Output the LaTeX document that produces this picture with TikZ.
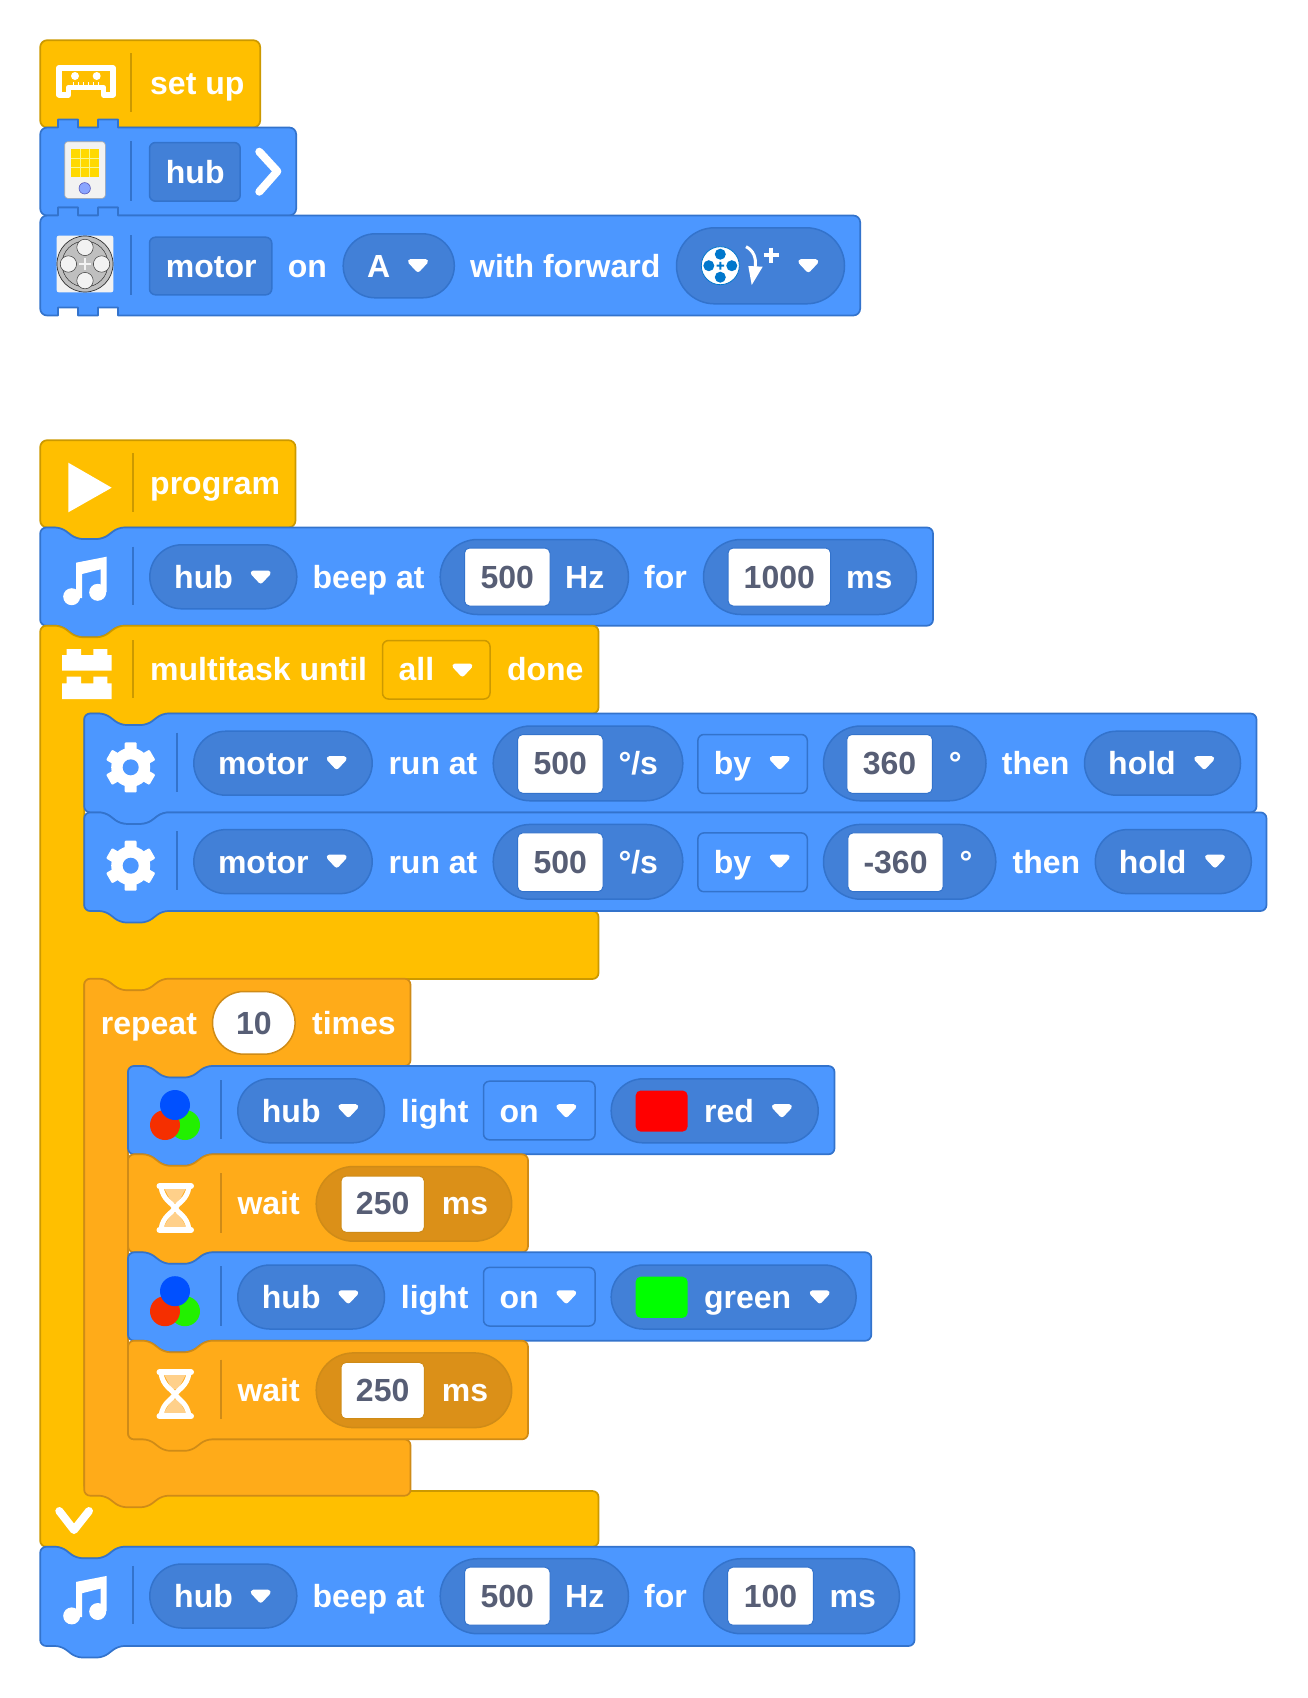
\documentclass[tikz,border=0pt]{standalone}
\usepackage{fontspec}
\setmainfont{Liberation Sans}
\definecolor{yel}{HTML}{FFBF00}\definecolor{yelD}{HTML}{CC9900}
\definecolor{blu}{HTML}{4C97FF}\definecolor{bluD}{HTML}{3373CC}\definecolor{bluI}{HTML}{4280D7}
\definecolor{org}{HTML}{FFAB19}\definecolor{orgD}{HTML}{CF8B17}\definecolor{orgI}{HTML}{DB9018}
\definecolor{numc}{HTML}{575E75}\definecolor{sand}{HTML}{FFD08A}\definecolor{iconbg}{HTML}{F2F2F2}
\tikzset{
  yb/.style={fill=yel,draw=yelD,line width=1.7pt,line join=round},
  bb/.style={fill=blu,draw=bluD,line width=1.7pt,line join=round},
  ob/.style={fill=org,draw=orgD,line width=1.7pt,line join=round},
  bp/.style={fill=bluI,draw=bluD,line width=1.5pt},
  op/.style={fill=orgI,draw=orgD,line width=1.5pt},
  lbl/.style={anchor=base west,inner sep=0pt,text=white,font=\fontsize{32}{32}\selectfont\bfseries},
  nbl/.style={anchor=base,inner sep=0pt,text=numc,font=\fontsize{32}{32}\selectfont\bfseries},
  sepB/.style={draw=bluD,line width=1.8pt},
  sepO/.style={draw=orgD,line width=1.8pt},
  sepY/.style={draw=yelD,line width=1.8pt},
  ic/.style={fill=white,draw=none}
}
\newcounter{tn}
\newcommand\lbl[3]{\stepcounter{tn}\node[lbl] (t\arabic{tn}) at ({#1-1},{#2-0.2}) {#3};}
\newcommand\nbl[3]{\stepcounter{tn}\node[nbl] (t\arabic{tn}) at (#1,{#2-0.2}) {#3};}
% stack block with notch and bump
\newcommand\blk[5]{\draw[#1,rounded corners=6pt] (#2,#3) -- ({#2+21},#3) -- ({#2+36},{#3+11.5}) -- ({#2+63},{#3+11.5}) -- ({#2+78},#3) -- (#4,#3) -- (#4,#5) -- ({#2+78},#5) -- ({#2+63},{#5+11.5}) -- ({#2+36},{#5+11.5}) -- ({#2+21},#5) -- (#2,#5) -- cycle;}
\newcommand\hatblk[5]{\draw[#1,rounded corners=7pt] (#2,#3) -- (#4,#3) -- (#4,#5) -- (#2,#5) -- cycle;}
% block with square tabs
\newcommand\tabblk[3]{\draw[bb] (47.2,#1) -- (58,#1) -- (58,{#1-8}) -- (78,{#1-8}) -- (78,#1) -- (98,#1) -- (98,{#1-8}) -- (118,{#1-8}) -- (118,#1) -- ({#2-7},#1) .. controls ({#2-3},#1) and (#2,{#1+3}) .. (#2,{#1+7}) -- (#2,{#3-7}) .. controls (#2,{#3-3}) and ({#2-3},#3) .. ({#2-7},#3) -- (118,#3) -- (118,{#3-8}) -- (98,{#3-8}) -- (98,#3) -- (78,#3) -- (78,{#3-8}) -- (58,{#3-8}) -- (58,#3) -- (47.2,#3) .. controls (43.2,#3) and (40.2,{#3-3}) .. (40.2,{#3-7}) -- (40.2,{#1+7}) .. controls (40.2,{#1+3}) and (43.2,#1) .. (47.2,#1) -- cycle;}
\newcommand\pill[5]{\pgfmathsetmacro\prad{(#5-#3)/2-0.01}\draw[#1,rounded corners=\prad pt] (#2,#3) rectangle (#4,#5);}
\newcommand\rbox[5]{\draw[#1,rounded corners=6pt] (#2,#3) rectangle (#4,#5);}
\newcommand\tri[2]{\draw[fill=white,draw=white,line width=5pt,line join=round] ({#1-7.5},{#2-4}) -- ({#1+7.5},{#2-4}) -- (#1,{#2+4}) -- cycle;}
% white number box with centred number
\newcommand\numb[6]{\draw[fill=white,draw=#6,line width=1pt,rounded corners=5pt] (#1,#2) rectangle (#3,#4);\pgfmathsetmacro\nx{(#1+#3)/2}\nbl{\nx}{#5}}
\newcommand\noteicon{\fill[ic] (71.7,596.7) circle (8.5) (97.7,592.3) circle (8.5);
  \fill[ic] (76,598) -- (76,562.7) -- (106.7,556.7) -- (106.7,592) -- (100.7,592) -- (100.7,569.3) -- (82,574) -- (82,598) -- cycle;}
\newcommand\gearicon[2]{\begin{scope}[shift={(#1,#2)}]
  \fill[ic] (0,0) circle (19.5);
  \foreach \a in {0,60,120,180,240,300}{\fill[ic,rotate=\a,rounded corners=1pt] (-6,-25) rectangle (6,-12);}
  \fill[blu] (0,0) circle (8);
\end{scope}}
\newcommand\rgbicon{\fill[fill={rgb,255:red,34;green,240;blue,0}] (185,1125) circle (15);
  \fill[fill={rgb,255:red,245;green,47;blue,0}] (165,1125) circle (15);
  \fill[fill={rgb,255:red,0;green,80;blue,255}] (175,1105) circle (15);}
\newcommand\lightrow[5]{\begin{scope}[shift={(0,#1)}]
  \rgbicon
  \draw[sepB] (220.7,1080) -- (220.7,1139.3);
  \pill{bp}{237.8}{1078.8}{384.5}{1142.8}
  \lbl{262.7}{1122.7}{hub}\tri{348.3}{1110.7}
  \lbl{401.7}{1122.7}{light}
  \rbox{fill=blu,draw=bluD,line width=1.5pt}{483.5}{1081.2}{595.1}{1139.8}
  \lbl{500.3}{1122.7}{on}\tri{566.3}{1110.7}
  \pill{bp}{611.2}{1078.8}{#3}{1142.8}
  \fill[#2,rounded corners=5pt] (635.7,1090.5) rectangle (687.6,1131.6);
  \lbl{704.9}{1122.7}{#5}\tri{#4}{1110.7}
\end{scope}}
\newcommand\waitrow[1]{\begin{scope}[shift={(0,#1)}]
  \fill[sand] (164,1188) -- (186,1188) -- (178,1203) -- (172,1203) -- cycle;
  \fill[sand] (172,1213) -- (178,1213) -- (187,1228) -- (163,1228) -- cycle;
  \draw[white,line width=5pt] (161,1187) .. controls (163,1200) and (172,1203) .. (175,1208) .. controls (178,1203) and (187,1200) .. (189,1187);
  \draw[white,line width=5pt] (161,1229) .. controls (163,1216) and (172,1213) .. (175,1208) .. controls (178,1213) and (187,1216) .. (189,1229);
  \draw[white,line width=6pt,line cap=round] (159.5,1186) -- (191,1186);
  \draw[white,line width=6pt,line cap=round] (159.5,1230) -- (191,1230);
  \draw[sepO] (220.7,1173.3) -- (220.7,1232.7);
  \lbl{238.3}{1215}{wait}
  \pill{op}{316.2}{1166.5}{511.7}{1241.2}
  \numb{341}{1176}{424.3}{1232.3}{1215}{orgD}{250}
  \lbl{442.7}{1215}{ms}
\end{scope}}
\newcommand\beeprow[1]{\begin{scope}[shift={(0,#1)}]
  \noteicon
  \draw[sepB] (132.7,546.7) -- (132.7,605);
  \pill{bp}{149.8}{544.8}{296.8}{608.8}
  \lbl{175}{588.8}{hub}\tri{260.7}{577}
  \lbl{313.3}{588.8}{beep at}
  \pill{bp}{440.2}{539.5}{628.5}{614.5}
  \numb{464.5}{548}{550}{606}{588.8}{bluD}{500}
  \lbl{566}{588.8}{Hz}
  \lbl{645}{588.8}{for}
\end{scope}}
\newcommand\motorrow[1]{\gearicon{130.7}{#1+4.4}
  \draw[sepB] (176.7,{#1-30.2}) -- (176.7,{#1+28.8});
  \pgfmathsetmacro\ya{#1-31.7}\pgfmathsetmacro\yb{#1+32.3}
  \pgfmathsetmacro\yba{#1+12.2}\pgfmathsetmacro\yt{#1-0.2}
  \pgfmathsetmacro\yc{#1-36.9}\pgfmathsetmacro\yd{#1+37.9}
  \pgfmathsetmacro\ye{#1-28.4}\pgfmathsetmacro\yf{#1+30.4}
  \pill{bp}{193.8}{\ya}{372.2}{\yb}
  \lbl{218.8}{\yba}{motor}\tri{336.7}{\yt}
  \lbl{389.3}{\yba}{run at}
  \pill{bp}{493.2}{\yc}{682.8}{\yd}
  \numb{517.6}{\ye}{603}{\yf}{\yba}{bluD}{500}
  \lbl{619.3}{\yba}{°/s}
  \rbox{fill=blu,draw=bluD,line width=1.5pt}{697.9}{\ye}{807.3}{\yf}
  \lbl{714.6}{\yba}{by}\tri{779.7}{\yt}
}
\begin{document}
\begin{tikzpicture}[x=1pt,y=-1pt]
\useasboundingbox (0,0) rectangle (1307,1698);
%% ---- set up stack
\hatblk{yb}{40.2}{40.2}{260.2}{127.5}
\draw[white,line width=5.8pt,line join=round] (59,94.6) -- (68.5,94.6) -- (68.5,87.5) -- (103.5,87.5) -- (103.5,94.6) -- (113,94.6) -- (113,68) -- (59,68) -- cycle;
\fill[ic] (75,76) circle (4) (96.7,76) circle (4);
\foreach \tx in {73,78,83,88,93,98}{\draw[white,line width=0.8pt] (\tx,82) -- (\tx,85.5);}
\draw[sepY] (130.7,53) -- (130.7,111.7);
\lbl{151}{95}{set up}
\tabblk{127.5}{296.2}{215.5}
\draw[fill=iconbg,draw=gray!70,line width=0.6pt,rounded corners=3pt] (64.7,141.7) rectangle (105.3,198.3);
\fill[fill={rgb,255:red,255;green,217;blue,0}] (71,149) rectangle (99,176.7);
\draw[iconbg!60!yellow,line width=0.7pt] (80.3,149) -- (80.3,176.7) (89.7,149) -- (89.7,176.7) (71,158.2) -- (99,158.2) (71,167.5) -- (99,167.5);
\draw[fill={rgb,255:red,138;green,165;blue,255},draw=gray!60!blue,line width=0.5pt] (84.7,188.3) circle (5.7);
\draw[sepB] (130.7,141) -- (130.7,200.7);
\rbox{bp}{149.5}{142.5}{240.2}{201.2}
\lbl{166.7}{183.7}{hub}
\draw[white,line width=8pt,line cap=round,line join=round] (259.3,151.7) -- (277.3,171.3) -- (259.3,191.7);
\tabblk{215.5}{860.2}{315.5}
\fill[iconbg,rounded corners=2pt] (56.7,235.7) rectangle (113.3,292.3);
\draw[fill=gray!50,draw=gray!40!black,line width=0.7pt] (85,264) circle (28);
\draw[gray!40!black,line width=0.5pt] (85,264) circle (23);
\foreach \dx/\dy in {16.6/0,-16.6/0,0/16.6,0/-16.6}{\draw[fill=iconbg,draw=gray!40!black,line width=0.5pt] ({85+\dx},{264+\dy}) circle (8.2);}
\draw[iconbg,line width=2.5pt] (79,264) -- (91,264) (85,258) -- (85,270);
\draw[sepB] (130.7,235) -- (130.7,295);
\rbox{bp}{149.5}{237.2}{271.8}{294.8}
\lbl{166.7}{277.7}{motor}
\lbl{288.7}{277.7}{on}
\pill{bp}{343.2}{233.8}{454.3}{297.8}
\lbl{368}{277.7}{A}\tri{418}{265.5}
\lbl{471}{277.7}{with forward}
\pill{bp}{676.5}{227.8}{844.5}{303.8}
\draw[fill=white,draw={rgb,255:red,0;green,119;blue,204},line width=0.8pt] (720.3,265.7) circle (19);
\foreach \dx/\dy in {11.5/0,-11.5/0,0/11.5,0/-11.5}{\fill[fill={rgb,255:red,0;green,119;blue,204}] ({720.3+\dx},{265.7+\dy}) circle (5.5);}
\fill[fill={rgb,255:red,0;green,119;blue,204}] (716.5,264.7) rectangle (724.1,266.7) (719.3,261.9) rectangle (721.3,269.5);
\draw[white,line width=3pt] (746,246.7) .. controls (753,250) and (757,258) .. (755,268);
\fill[ic] (748.3,266) -- (762.7,266.7) -- (751.7,285) -- cycle;
\draw[white,line width=3.5pt] (763.5,255) -- (778.5,255) (771,247.5) -- (771,262.5);
\tri{808.3}{265.7}
%% ---- program stack
\draw[yb,rounded corners=7pt] (40.2,440.2) -- (295.5,440.2) -- (295.5,527.5) -- (118.2,527.5) -- (103.2,539) -- (76.2,539) -- (61.2,527.5) -- (40.2,527.5) -- cycle;
\fill[ic] (68.3,462.7) -- (111.7,487.7) -- (68.3,512.3) -- cycle;
\draw[sepY] (132.7,453) -- (132.7,511.7);
\lbl{151}{495}{program}
\blk{bb}{40.2}{527.5}{933}{625.7}
\beeprow{0}
\pill{bp}{703.5}{539.5}{916.5}{614.5}
\numb{728}{548}{830.6}{606}{588.8}{bluD}{1000}
\lbl{847}{588.8}{ms}
%% ---- multitask C block
\draw[yb,rounded corners=6pt] (40.2,625.7) -- (61.2,625.7) -- (76.2,637.2) -- (103.2,637.2) -- (118.2,625.7) -- (598.5,625.7) -- (598.5,713.5) -- (162.2,713.5) -- (147.2,725) -- (120.2,725) -- (105.2,713.5) -- (84.2,713.5) -- (84.2,911) -- (598.5,911) -- (598.5,979) -- (162.2,979) -- (147.2,990.5) -- (120.2,990.5) -- (105.2,979) -- (84.2,979) -- (84.2,1491) -- (598.5,1491) -- (598.5,1546.7) -- (118.2,1546.7) -- (103.2,1558.2) -- (76.2,1558.2) -- (61.2,1546.7) -- (40.2,1546.7) -- cycle;
\fill[ic] (66.7,649) rectangle (81,657) (93.3,649) rectangle (107.3,657) (62,655) rectangle (111.7,670.7);
\fill[ic] (66.7,676.7) rectangle (81,685) (93.3,676.7) rectangle (107.3,685) (62,683.3) rectangle (111.7,699);
\draw[sepY] (132.7,640) -- (132.7,698);
\lbl{151}{681}{multitask until}
\rbox{fill=yel,draw=yelD,line width=1.5pt}{382.5}{640.5}{490}{699}
\lbl{399.5}{681}{all}\tri{462.4}{670}
\lbl{507.8}{681}{done}
\draw[white,line width=8pt,line cap=round,line join=round] (59.3,1511) -- (74,1530) -- (89,1511);
%% ---- run motors
\blk{bb}{84.2}{713.5}{1256.5}{812.4}
\motorrow{762.9}
\pill{bp}{823.5}{726}{986}{800.8}
\numb{846.8}{734.5}{932.4}{793.3}{775.1}{bluD}{360}
\lbl{949.6}{775.1}{°}
\lbl{1002.7}{775.1}{then}
\pill{bp}{1084.5}{731.2}{1240.5}{795.2}
\lbl{1109}{775.1}{hold}\tri{1204.2}{762.7}
\blk{bb}{84.2}{812.4}{1266.5}{911}
\motorrow{861.3}
\pill{bp}{823.5}{824.4}{995.8}{899.2}
\numb{847.9}{832.9}{943.2}{891.7}{873.5}{bluD}{-360}
\lbl{960.4}{873.5}{°}
\lbl{1013.5}{873.5}{then}
\pill{bp}{1095.3}{829.6}{1251.3}{893.6}
\lbl{1119.7}{873.5}{hold}\tri{1215}{861.1}
%% ---- repeat C block
\draw[ob,rounded corners=6pt] (84.2,978.7) -- (105.2,978.7) -- (120.2,990.2) -- (147.2,990.2) -- (162.2,978.7) -- (410.5,978.7) -- (410.5,1066) -- (206,1066) -- (191,1077.5) -- (164,1077.5) -- (149,1066) -- (128,1066) -- (128,1439.3) -- (410.5,1439.3) -- (410.5,1495.7) -- (162.2,1495.7) -- (147.2,1507.2) -- (120.2,1507.2) -- (105.2,1495.7) -- (84.2,1495.7) -- cycle;
\lbl{101.7}{1034.5}{repeat}
\pill{fill=white,draw=orgD,line width=1.5pt}{212.5}{991.5}{295.1}{1054.2}
\nbl{253.8}{1034.5}{10}
\lbl{312.9}{1034.5}{times}
%% ---- light / wait
\blk{bb}{128}{1066}{834.5}{1154.3}
\lightrow{0}{red}{818.2}{781.9}{red}
\blk{ob}{128}{1154.3}{528}{1252.3}
\waitrow{0}
\blk{bb}{128}{1252.3}{871.3}{1340.7}
\lightrow{186.2}{green}{856.1}{819.7}{green}
\blk{ob}{128}{1340.7}{528}{1439.3}
\waitrow{186.4}
%% ---- final beep
\blk{bb}{40.2}{1546.7}{914.5}{1646}
\beeprow{1019.2}
\pill{bp}{703.5}{1558.7}{899.4}{1633.7}
\numb{727.7}{1567.2}{813.3}{1625.2}{1608}{bluD}{100}
\lbl{830.5}{1608}{ms}
\end{tikzpicture}
\end{document}
